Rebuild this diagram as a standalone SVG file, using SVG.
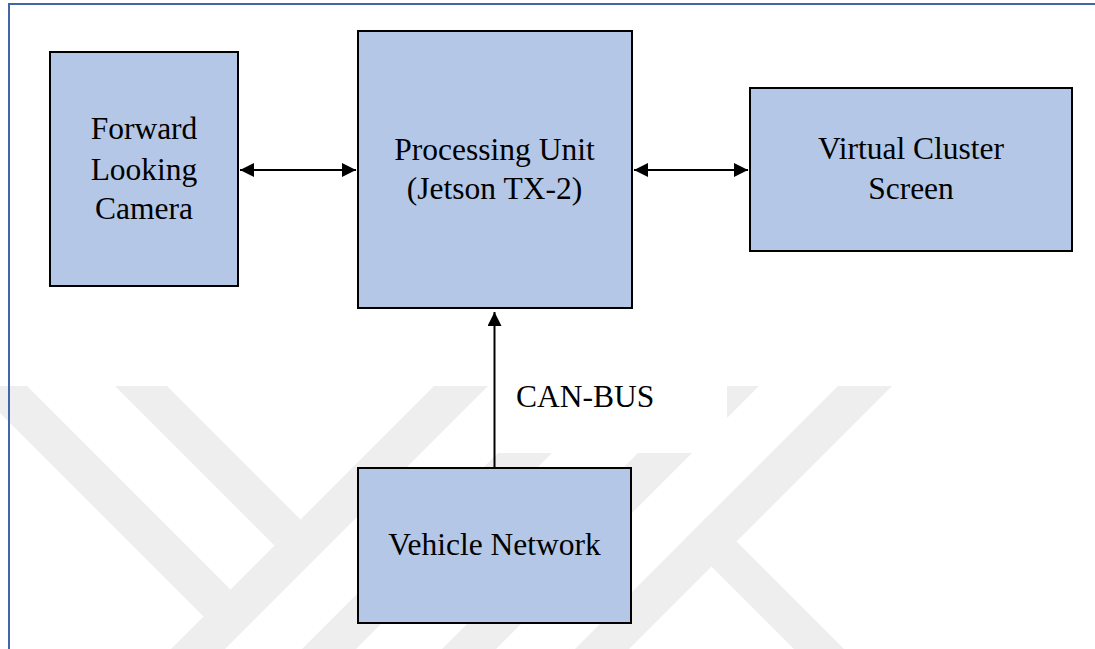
<svg xmlns="http://www.w3.org/2000/svg" width="1095" height="649" viewBox="0 0 1095 649">
  <defs>
    <style>
      .box { fill: #b4c7e7; stroke: #000; stroke-width: 2; }
      .lbl { font-family: "Liberation Serif", "Times New Roman", serif; font-size: 31.5px; fill: #000; text-anchor: middle; }
      .conn { stroke: #000; stroke-width: 2; fill: none; }
      .wm { fill: #eeeeee; }
    </style>
    <marker id="arr" viewBox="0 0 10 10" refX="10" refY="5" markerWidth="15" markerHeight="14" markerUnits="userSpaceOnUse" orient="auto-start-reverse">
      <path d="M0,0 L10,5 L0,10 z" fill="#000"/>
    </marker>
    <clipPath id="wmclip">
      <rect x="0" y="386" width="1095" height="263"/>
    </clipPath>
  </defs>
  <rect x="0" y="0" width="1095" height="649" fill="#fff"/>

  <g id="watermark" clip-path="url(#wmclip)">
    <polygon class="wm" points="434,386 488,386 225,649 171,649"/>
    <polygon class="wm" points="565,386 619,386 356,649 302,649"/>
    <polygon class="wm" points="705,386 759,386 496,649 442,649"/>
    <polygon class="wm" points="838,386 892,386 629,649 575,649"/>
    <polygon class="wm" points="-27,386 27,386 230.5,589.5 203.5,616.5"/>
    <polygon class="wm" points="115,386 167,386 300.5,519.5 274.5,545.5"/>
    <polygon class="wm" points="709.5,514.5 844,649 794,649 684.5,539.5"/>
  </g>

  <g id="frame">
    <line x1="8" y1="4" x2="1095" y2="4" stroke="#4266a8" stroke-width="2"/>
    <line x1="9" y1="4" x2="9" y2="649" stroke="#4266a8" stroke-width="2"/>
  </g>

  <g id="can-bus-label">
    <rect x="496" y="370" width="231" height="83" fill="#fff"/>
    <text x="516" y="407" class="lbl" style="text-anchor:start">CAN-BUS</text>
  </g>

  <g id="connectors">
    <path class="conn" d="M240,170 L356,170" marker-start="url(#arr)" marker-end="url(#arr)"/>
    <path class="conn" d="M634,170 L748,170" marker-start="url(#arr)" marker-end="url(#arr)"/>
    <path class="conn" d="M494.5,468 L494.5,312" marker-end="url(#arr)"/>
  </g>

  <g id="camera">
    <rect class="box" x="50" y="52" width="188" height="234"/>
    <text class="lbl" x="144" y="139">Forward</text>
    <text class="lbl" x="144" y="180">Looking</text>
    <text class="lbl" x="144" y="219">Camera</text>
  </g>

  <g id="processing-unit">
    <rect class="box" x="358" y="31" width="274" height="277"/>
    <text class="lbl" x="494.5" y="160">Processing Unit</text>
    <text class="lbl" x="494.5" y="199">(Jetson TX-2)</text>
  </g>

  <g id="virtual-cluster">
    <rect class="box" x="750" y="88" width="322" height="163"/>
    <text class="lbl" x="911" y="159">Virtual Cluster</text>
    <text class="lbl" x="911" y="199">Screen</text>
  </g>

  <g id="vehicle-network">
    <rect class="box" x="358" y="468" width="273" height="155"/>
    <text class="lbl" x="494.5" y="555">Vehicle Network</text>
  </g>
</svg>
